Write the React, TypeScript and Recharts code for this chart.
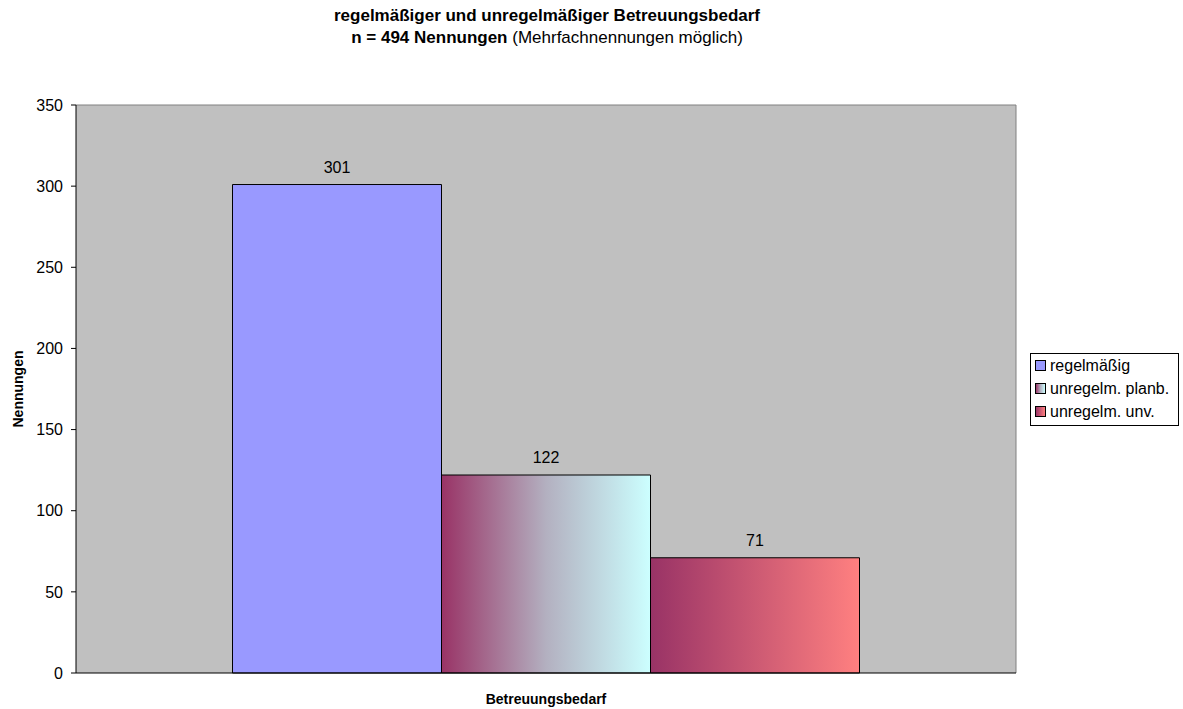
import React from "react";
import { BarChart, Bar, XAxis, YAxis, CartesianGrid, LabelList } from "recharts";

const categories = ["Betreuungsbedarf"];
const seriesNames = ["regelmäßig", "unregelm. planb.", "unregelm. unv."];
const regelmaessig = [301];
const planbar = [122];
const unvorhersehbar = [71];
const yTicks = [0, 50, 100, 150, 200, 250, 300, 350];
const categoryEdgeTicks = [0, 1];

const data = categories.map((c, i) => ({
  name: c,
  a: regelmaessig[i],
  b: planbar[i],
  c: unvorhersehbar[i],
}));

const FONT = "'Liberation Sans', Arial, sans-serif";

const swatchFills = ["#9999FF", "url(#gradB)", "url(#gradC)"];
const swatchCss = [
  "#9999FF",
  "linear-gradient(to right, #993366, #B3B0C0, #CCFFFF)",
  "linear-gradient(to right, #993366, #FF8080)",
];

const LegendBox = () => (
  <div
    style={{
      position: "absolute",
      left: 1030,
      top: 353,
      width: 149,
      height: 73,
      border: "1px solid #000",
      background: "#fff",
      padding: "0 0 0 4px",
      fontFamily: FONT,
      fontSize: 16,
      boxSizing: "border-box",
      color: "#000",
      zIndex: 2,
    }}
  >
    {seriesNames.map((n, i) => (
      <div key={n} style={{ display: "flex", alignItems: "center", height: 23, whiteSpace: "nowrap" }}>
        <div
          style={{
            width: 9,
            height: 9,
            border: "1px solid #000",
            background: swatchCss[i],
            marginRight: 4,
            flex: "none",
          }}
        />
        <span>{n}</span>
      </div>
    ))}
  </div>
);

export default function App() {
  return (
    <div style={{ position: "relative", width: 1183, height: 709, fontFamily: FONT }}>
      <style>{"html, body { margin: 0; padding: 0; overflow: hidden; }"}</style>
      <div
        style={{
          position: "absolute",
          left: 0,
          width: 1094,
          top: 5,
          textAlign: "center",
          fontSize: 17,
          lineHeight: "22px",
          color: "#000",
          zIndex: 1,
        }}
      >
        <div style={{ fontWeight: "bold" }}>regelmäßiger und unregelmäßiger Betreuungsbedarf</div>
        <div>
          <b>n = 494 Nennungen</b> (Mehrfachnennungen möglich)
        </div>
      </div>
      <LegendBox />
      <BarChart
        width={1183}
        height={709}
        data={data}
        margin={{ top: 105, right: 167, bottom: 0, left: 16 }}
        barGap={0}
        barCategoryGap="16.65%"
        style={{ fontFamily: FONT }}
      >
        <defs>
          <linearGradient id="gradB" x1="0" y1="0" x2="1" y2="0">
            <stop offset="0" stopColor="#993366" />
            <stop offset="0.5" stopColor="#B3B0C0" />
            <stop offset="1" stopColor="#CCFFFF" />
          </linearGradient>
          <linearGradient id="gradC" x1="0" y1="0" x2="1" y2="0">
            <stop offset="0" stopColor="#993366" />
            <stop offset="1" stopColor="#FF8080" />
          </linearGradient>
        </defs>
        <CartesianGrid
          fill="#C0C0C0"
          stroke="#808080"
          horizontalCoordinatesGenerator={({ offset }: any) => [offset.top]}
          verticalCoordinatesGenerator={({ offset }: any) => [offset.left + offset.width]}
        />
        <XAxis
          xAxisId="edges"
          type="number"
          domain={[0, 1]}
          ticks={categoryEdgeTicks}
          height={0}
          axisLine={false}
          tick={false}
          tickLine={{ stroke: "#000" }}
          tickSize={5}
        />
        <XAxis
          dataKey="name"
          tick={false}
          tickLine={false}
          axisLine={{ stroke: "#000" }}
          height={36}
          label={{
            value: "Betreuungsbedarf",
            position: "insideBottom",
            offset: 5,
            fill: "#000",
            fontWeight: "bold",
            fontSize: 14,
          }}
        />
        <YAxis
          domain={[0, 350]}
          ticks={yTicks}
          interval={0}
          width={60}
          axisLine={{ stroke: "#000" }}
          tickLine={{ stroke: "#000" }}
          tickSize={5}
          tickMargin={8}
          tick={{ fill: "#000", fontSize: 16 }}
          label={{
            value: "Nennungen",
            angle: -90,
            position: "insideLeft",
            offset: 2,
            fill: "#000",
            fontWeight: "bold",
            fontSize: 14,
            style: { textAnchor: "middle" },
          }}
        />
        <Bar dataKey="a" name={seriesNames[0]} fill={swatchFills[0]} stroke="#000" isAnimationActive={false}>
          <LabelList dataKey="a" position="top" offset={12} fill="#000" fontSize={16} />
        </Bar>
        <Bar dataKey="b" name={seriesNames[1]} fill={swatchFills[1]} stroke="#000" isAnimationActive={false}>
          <LabelList dataKey="b" position="top" offset={12} fill="#000" fontSize={16} />
        </Bar>
        <Bar dataKey="c" name={seriesNames[2]} fill={swatchFills[2]} stroke="#000" isAnimationActive={false}>
          <LabelList dataKey="c" position="top" offset={12} fill="#000" fontSize={16} />
        </Bar>
      </BarChart>
    </div>
  );
}
